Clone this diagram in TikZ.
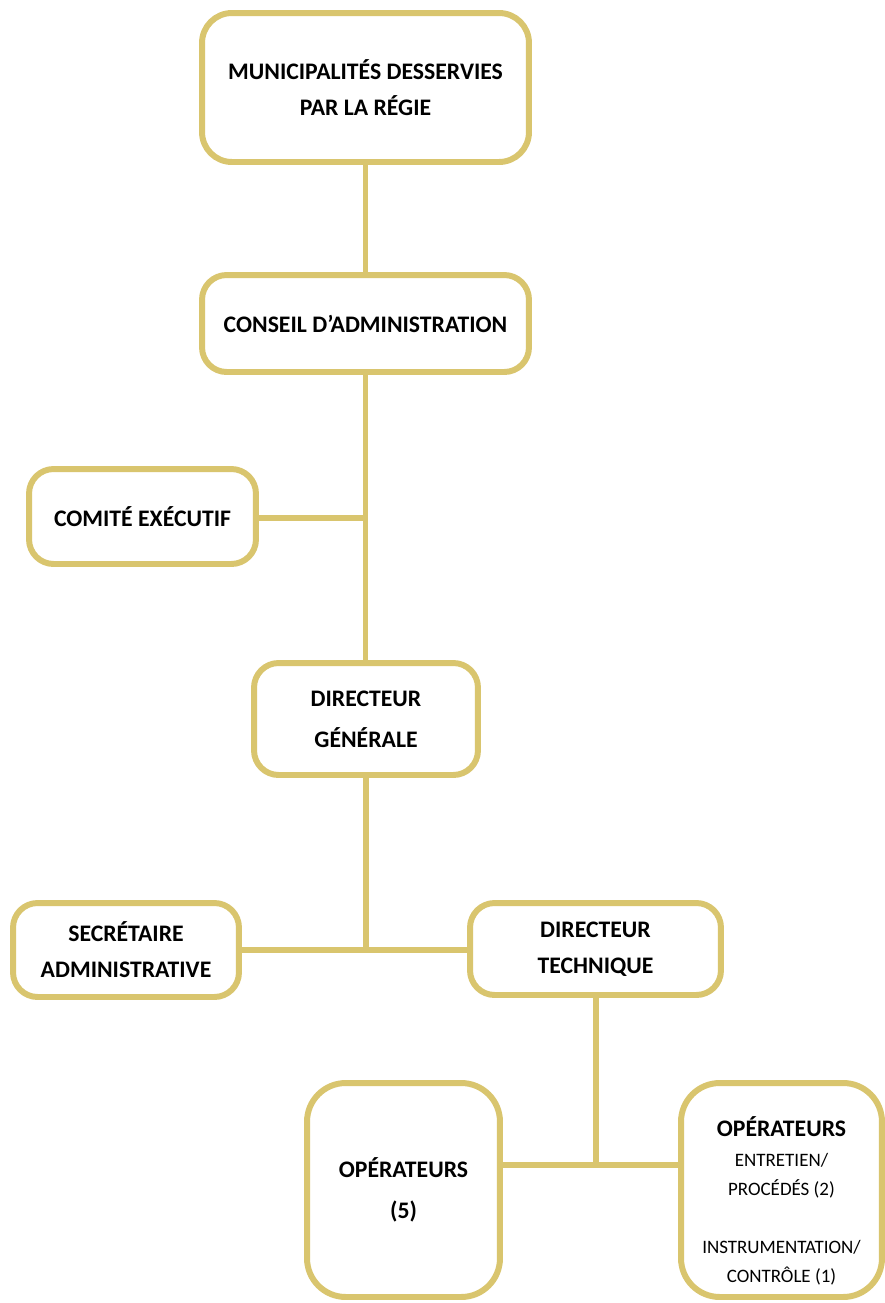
\documentclass[tikz,border=0pt]{standalone}
\usepackage{fontspec}
\setmainfont{Carlito}
\usepackage{tikz}
\usetikzlibrary{positioning}
\definecolor{orgline}{RGB}{217,197,110}
\newcommand\opsub{\mdseries\fontsize{10.8}{16.6}\selectfont}

\begin{document}
\begin{tikzpicture}[x=0.02cm,y=-0.02cm,
  main node/.style={draw=orgline, line width=3.4pt, rounded corners=14pt, fill=white, align=center, inner sep=0pt, font=\bfseries\fontsize{13.5}{20.4}\selectfont},
  link/.style={draw=orgline, line width=3pt}]
			\useasboundingbox (0,0) rectangle (885,1303);
			
			\node[main node, rounded corners=17pt, minimum width=6.54cm, minimum height=2.98cm] (1) at (365.5,87.5) {MUNICIPALITÉS DESSERVIES\\PAR LA RÉGIE};
			\node[main node, minimum width=6.54cm, minimum height=1.94cm] (2) at (365.5,323.5) {CONSEIL D’ADMINISTRATION};
			\node[main node, minimum width=4.54cm, minimum height=1.90cm] (3) at (142.5,516.5) {COMITÉ EXÉCUTIF};
			\node[main node, minimum width=4.48cm, minimum height=2.24cm] (4) at (366,719) {DIRECTEUR\\[3pt]GÉNÉRALE};
			
			\node[main node, minimum width=4.52cm, minimum height=1.88cm] (5) at (126,950) {SECRÉTAIRE\\ADMINISTRATIVE};
			\node[main node, minimum width=5.02cm, minimum height=1.84cm] (6) at (595.5,949) {DIRECTEUR\\TECHNIQUE};
			
			\node[main node, rounded corners=22pt, minimum width=3.86cm, minimum height=4.28cm] (7) at (403.5,1190) {OPÉRATEURS\\[3pt](5)};
			\node[main node, rounded corners=22pt, minimum width=4.02cm, minimum height=4.28cm, font=\bfseries\fontsize{13.5}{16.6}\selectfont] (8) at (781.5,1190) {\rule{0pt}{24pt}OPÉRATEURS\\\opsub ENTRETIEN/\\\opsub PROCÉDÉS (2)\\[16.6pt]\opsub INSTRUMENTATION/\\\opsub CONTRÔLE (1)};
			
			\coordinate (j1) at (366,518);
			\coordinate (j2) at (366,950);
			\coordinate (j3) at (596,1165);
			
			\path[link]
			(1) edge (2)
			(2.south) edge (2.south |- 4.north)
			(3.east |- j1) edge (j1)
			(4.south -| j2) edge (j2)
			(5.east |- j2) edge (6.west |- j2)
			(6.south -| j3) edge (j3)
			(7.east |- j3) edge (8.west |- j3);
			
\end{tikzpicture}
\end{document}
